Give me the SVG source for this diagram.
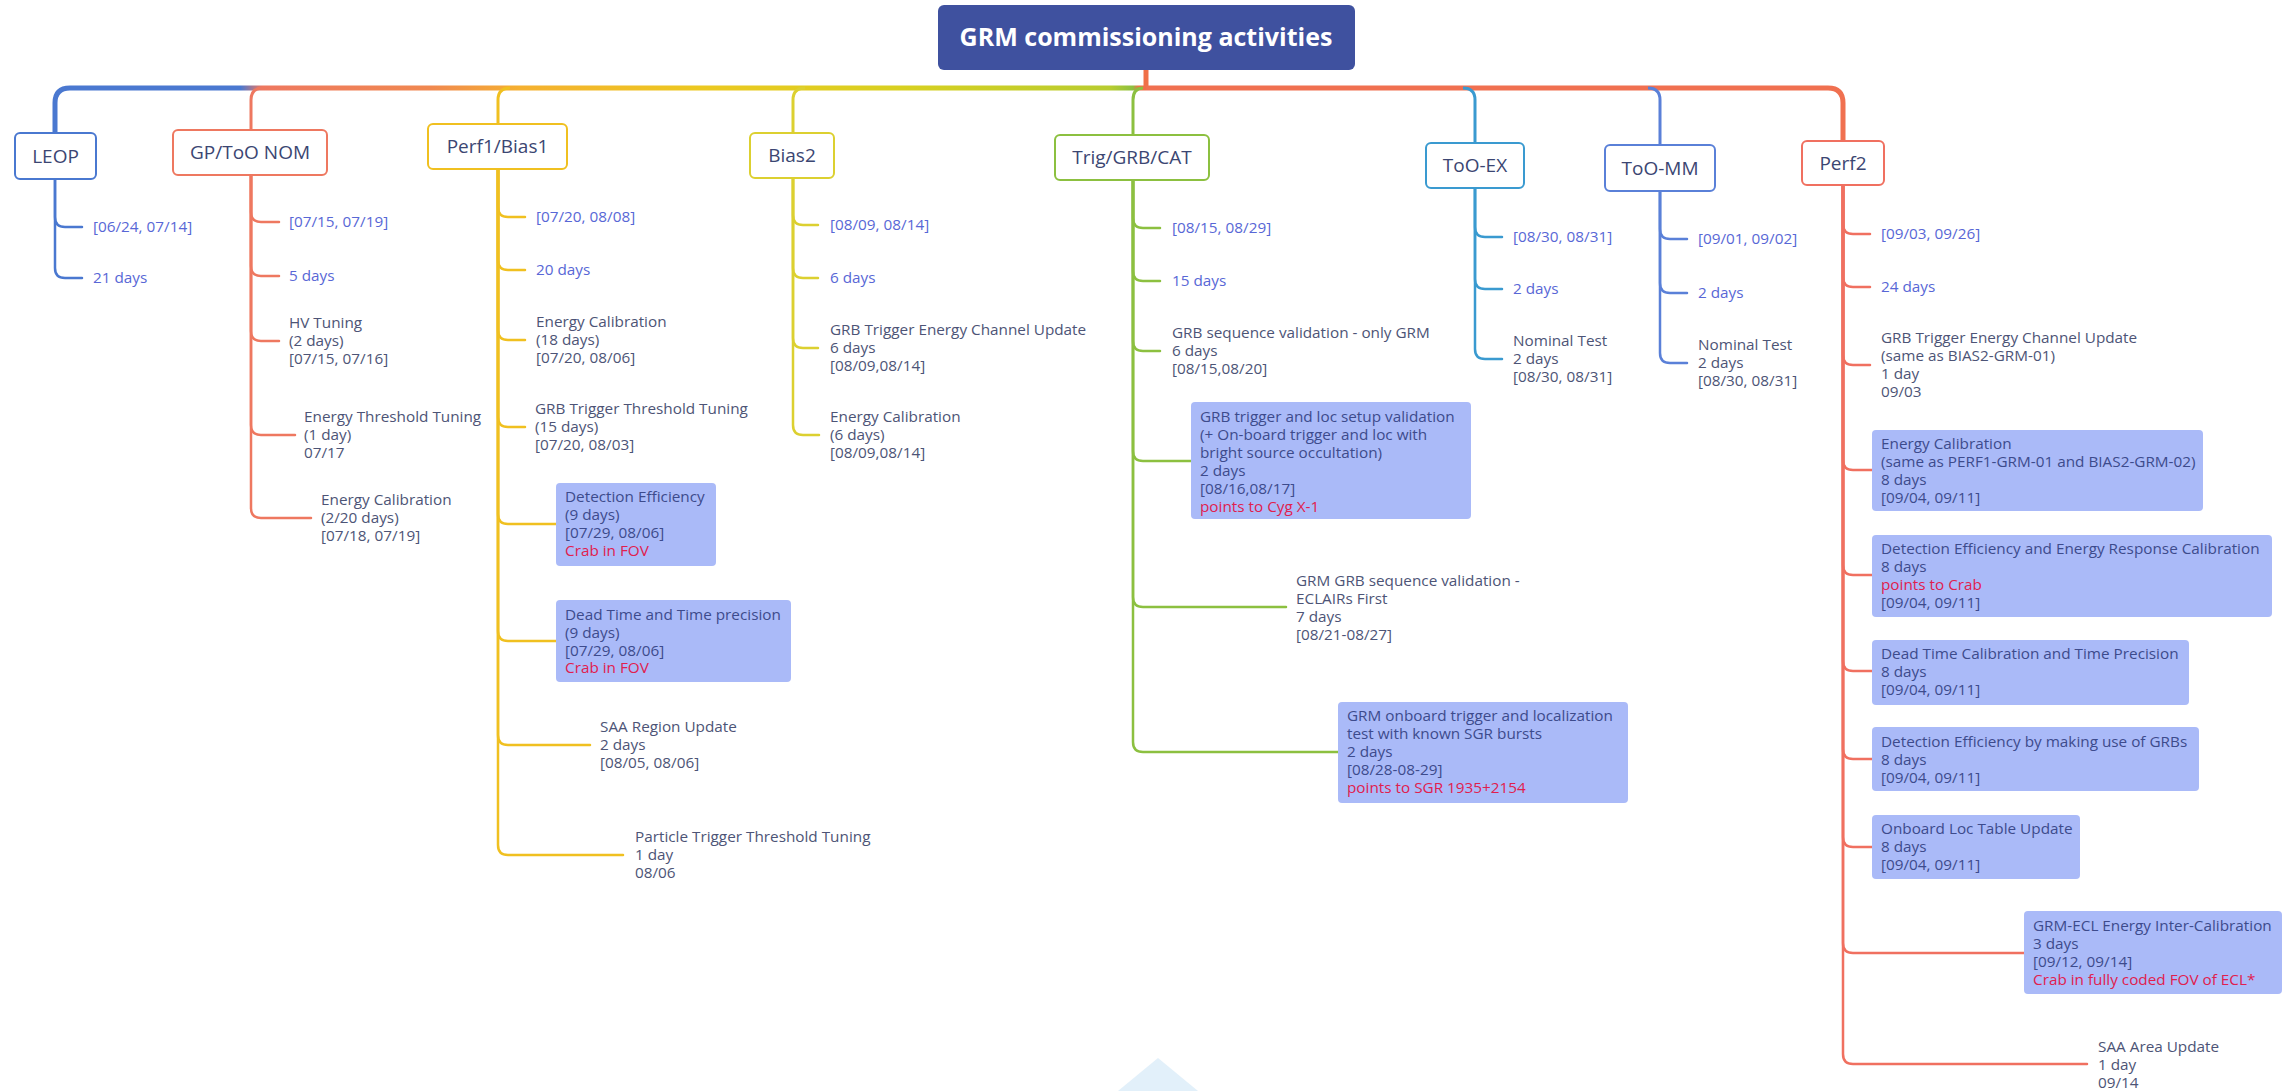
<svg xmlns="http://www.w3.org/2000/svg" width="2295" height="1091" viewBox="0 0 2295 1091">
<defs>
<style>
text{font-family:"Open Sans","Liberation Sans",sans-serif}
.box{fill:#fff;stroke-width:2}
.n{font-size:19px;fill:#3b4672;text-anchor:middle}
.d{font-size:15.3px;fill:#5867d6}
.t{font-size:15.3px;fill:#4d5476}
.bx{fill:#aabaf8}
.b{font-size:15.3px;fill:#3d4b8c}
.r{fill:#e0204e}
.c{fill:none;stroke-width:2.5;stroke-linecap:round}
.br{fill:none;stroke-width:3}
</style>
<linearGradient id="trunkL" gradientUnits="userSpaceOnUse" x1="55" y1="0" x2="1146" y2="0">
<stop offset="0" stop-color="#4a78d0"/>
<stop offset="0.17" stop-color="#4a78d0"/>
<stop offset="0.19" stop-color="#ee7860"/>
<stop offset="0.344" stop-color="#f08850"/>
<stop offset="0.426" stop-color="#f5b030"/>
<stop offset="0.59" stop-color="#ecc820"/>
<stop offset="0.775" stop-color="#d8d020"/>
<stop offset="0.967" stop-color="#b8cc30"/>
<stop offset="0.988" stop-color="#8cc040"/>
<stop offset="0.993" stop-color="#f07048"/>
<stop offset="1" stop-color="#f07048"/>
</linearGradient>
</defs>
<rect width="2295" height="1091" fill="#fff"/>
<polygon points="1158,1058 1118,1091 1198,1091" fill="#e2f0fa"/>

<g id="connectors">
<path d="M1146,70 V88" stroke="#f07048" stroke-width="5" fill="none"/>
<path d="M1146,88 H70 Q55,88 55,103 V133" stroke="url(#trunkL)" stroke-width="5" fill="none"/>
<path d="M1146,88 H1828 Q1843,88 1843,103 V141" stroke="#f07050" stroke-width="5" fill="none"/>
<path class="br" d="M263,88 Q251,88 251,100 V130" stroke="#ee7860"/>
<path class="br" d="M510,88 Q498,88 498,100 V124" stroke="#f0c020"/>
<path class="br" d="M805,88 Q793,88 793,100 V133" stroke="#dcd030"/>
<path class="br" d="M1143,88 Q1133,88 1133,100 V135" stroke="#8cc040"/>
<path class="br" d="M1463,88 Q1475,88 1475,100 V143" stroke="#3a9ad0"/>
<path class="br" d="M1648,88 Q1660,88 1660,100 V145" stroke="#5a80d8"/>
<g stroke="#4a78d0">
<path class="c" d="M55,179 V217 Q55,227 65,227 H82"/>
<path class="c" d="M55,179 V268 Q55,278 65,278 H82"/>
</g>
<g stroke="#ee7860">
<path class="c" d="M251,175 V212 Q251,222 261,222 H279"/>
<path class="c" d="M251,175 V266 Q251,276 261,276 H279"/>
<path class="c" d="M251,175 V331 Q251,341 261,341 H279"/>
<path class="c" d="M251,175 V425 Q251,435 261,435 H295"/>
<path class="c" d="M251,175 V508 Q251,518 261,518 H311"/>
</g>
<g stroke="#f0c020">
<path class="c" d="M498,169 V207 Q498,217 508,217 H525"/>
<path class="c" d="M498,169 V260 Q498,270 508,270 H525"/>
<path class="c" d="M498,169 V330 Q498,340 508,340 H525"/>
<path class="c" d="M498,169 V417 Q498,427 508,427 H525"/>
<path class="c" d="M498,169 V514 Q498,524 508,524 H556"/>
<path class="c" d="M498,169 V631 Q498,641 508,641 H556"/>
<path class="c" d="M498,169 V735 Q498,745 508,745 H590"/>
<path class="c" d="M498,169 V845 Q498,855 508,855 H623"/>
</g>
<g stroke="#dcd030">
<path class="c" d="M793,178 V215 Q793,225 803,225 H818"/>
<path class="c" d="M793,178 V268 Q793,278 803,278 H818"/>
<path class="c" d="M793,178 V338 Q793,348 803,348 H818"/>
<path class="c" d="M793,178 V425 Q793,435 803,435 H819"/>
</g>
<g stroke="#8cc040">
<path class="c" d="M1133,180 V218 Q1133,228 1143,228 H1160"/>
<path class="c" d="M1133,180 V271 Q1133,281 1143,281 H1160"/>
<path class="c" d="M1133,180 V341 Q1133,351 1143,351 H1160"/>
<path class="c" d="M1133,180 V451 Q1133,461 1143,461 H1191"/>
<path class="c" d="M1133,180 V597 Q1133,607 1143,607 H1286"/>
<path class="c" d="M1133,180 V742 Q1133,752 1143,752 H1338"/>
</g>
<g stroke="#3a9ad0">
<path class="c" d="M1475,188 V227 Q1475,237 1485,237 H1502"/>
<path class="c" d="M1475,188 V279 Q1475,289 1485,289 H1502"/>
<path class="c" d="M1475,188 V349 Q1475,359 1485,359 H1502"/>
</g>
<g stroke="#5a80d8">
<path class="c" d="M1660,191 V229 Q1660,239 1670,239 H1687"/>
<path class="c" d="M1660,191 V283 Q1660,293 1670,293 H1687"/>
<path class="c" d="M1660,191 V353 Q1660,363 1670,363 H1687"/>
</g>
<g stroke="#f07060">
<path class="c" d="M1843,185 V224 Q1843,234 1853,234 H1870"/>
<path class="c" d="M1843,185 V277 Q1843,287 1853,287 H1870"/>
<path class="c" d="M1843,185 V355 Q1843,365 1853,365 H1870"/>
<path class="c" d="M1843,185 V460 Q1843,470 1853,470 H1872"/>
<path class="c" d="M1843,185 V565 Q1843,575 1853,575 H1872"/>
<path class="c" d="M1843,185 V661 Q1843,671 1853,671 H1872"/>
<path class="c" d="M1843,185 V749 Q1843,759 1853,759 H1872"/>
<path class="c" d="M1843,185 V837 Q1843,847 1853,847 H1872"/>
<path class="c" d="M1843,185 V943 Q1843,953 1853,953 H2024"/>
<path class="c" d="M1843,185 V1054 Q1843,1064 1853,1064 H2087"/>
</g>
</g>

<g id="root">
<rect x="938" y="5" width="417" height="65" rx="6" fill="#3f519f"/>
<text x="1146" y="46" font-size="25" font-weight="700" fill="#fff" text-anchor="middle">GRM commissioning activities</text>
</g>

<g id="leop">
<rect class="box" x="15" y="133" width="81" height="46" rx="5" stroke="#4a78d0"/>
<text class="n" x="55.5" y="163">LEOP</text>
<text class="d" x="93" y="232">[06/24, 07/14]</text>
<text class="d" x="93" y="283">21 days</text>
</g>

<g id="gp">
<rect class="box" x="173" y="130" width="154" height="45" rx="5" stroke="#ee7860"/>
<text class="n" x="250" y="159">GP/ToO NOM</text>
<text class="d" x="289" y="227">[07/15, 07/19]</text>
<text class="d" x="289" y="281">5 days</text>
<text class="t" x="289" y="328">HV Tuning<tspan x="289" y="346">(2 days)</tspan><tspan x="289" y="364">[07/15, 07/16]</tspan></text>
<text class="t" x="304" y="422">Energy Threshold Tuning<tspan x="304" y="440">(1 day)</tspan><tspan x="304" y="458">07/17</tspan></text>
<text class="t" x="321" y="505">Energy Calibration<tspan x="321" y="523">(2/20 days)</tspan><tspan x="321" y="541">[07/18, 07/19]</tspan></text>
</g>

<g id="perf1">
<rect class="box" x="428" y="124" width="139" height="45" rx="5" stroke="#f0c020"/>
<text class="n" x="497.5" y="153">Perf1/Bias1</text>
<text class="d" x="536" y="222">[07/20, 08/08]</text>
<text class="d" x="536" y="275">20 days</text>
<text class="t" x="536" y="327">Energy Calibration<tspan x="536" y="345">(18 days)</tspan><tspan x="536" y="363">[07/20, 08/06]</tspan></text>
<text class="t" x="535" y="414">GRB Trigger Threshold Tuning<tspan x="535" y="432">(15 days)</tspan><tspan x="535" y="450">[07/20, 08/03]</tspan></text>
<rect class="bx" x="556" y="483" width="160" height="83" rx="4"/>
<text class="b" x="565" y="502">Detection Efficiency<tspan x="565" y="520">(9 days)</tspan><tspan x="565" y="538">[07/29, 08/06]</tspan><tspan class="r" x="565" y="556">Crab in FOV</tspan></text>
<rect class="bx" x="556" y="600" width="235" height="82" rx="4"/>
<text class="b" x="565" y="620">Dead Time and Time precision<tspan x="565" y="638">(9 days)</tspan><tspan x="565" y="656">[07/29, 08/06]</tspan><tspan class="r" x="565" y="673">Crab in FOV</tspan></text>
<text class="t" x="600" y="732">SAA Region Update<tspan x="600" y="750">2 days</tspan><tspan x="600" y="768">[08/05, 08/06]</tspan></text>
<text class="t" x="635" y="842">Particle Trigger Threshold Tuning<tspan x="635" y="860">1 day</tspan><tspan x="635" y="878">08/06</tspan></text>
</g>

<g id="bias2">
<rect class="box" x="750" y="133" width="84" height="45" rx="5" stroke="#dcd030"/>
<text class="n" x="792" y="162">Bias2</text>
<text class="d" x="830" y="230">[08/09, 08/14]</text>
<text class="d" x="830" y="283">6 days</text>
<text class="t" x="830" y="335">GRB Trigger Energy Channel Update<tspan x="830" y="353">6 days</tspan><tspan x="830" y="371">[08/09,08/14]</tspan></text>
<text class="t" x="830" y="422">Energy Calibration<tspan x="830" y="440">(6 days)</tspan><tspan x="830" y="458">[08/09,08/14]</tspan></text>
</g>

<g id="trig">
<rect class="box" x="1055" y="135" width="154" height="45" rx="5" stroke="#8cc040"/>
<text class="n" x="1132" y="164">Trig/GRB/CAT</text>
<text class="d" x="1172" y="233">[08/15, 08/29]</text>
<text class="d" x="1172" y="286">15 days</text>
<text class="t" x="1172" y="338">GRB sequence validation - only GRM<tspan x="1172" y="356">6 days</tspan><tspan x="1172" y="374">[08/15,08/20]</tspan></text>
<rect class="bx" x="1191" y="402" width="280" height="117" rx="4"/>
<text class="b" x="1200" y="422">GRB trigger and loc setup validation<tspan x="1200" y="440">(+ On-board trigger and loc with</tspan><tspan x="1200" y="458">bright source occultation)</tspan><tspan x="1200" y="476">2 days</tspan><tspan x="1200" y="494">[08/16,08/17]</tspan><tspan class="r" x="1200" y="512">points to Cyg X-1</tspan></text>
<text class="t" x="1296" y="586">GRM GRB sequence validation -<tspan x="1296" y="604">ECLAIRs First</tspan><tspan x="1296" y="622">7 days</tspan><tspan x="1296" y="640">[08/21-08/27]</tspan></text>
<rect class="bx" x="1338" y="702" width="290" height="101" rx="4"/>
<text class="b" x="1347" y="721">GRM onboard trigger and localization<tspan x="1347" y="739">test with known SGR bursts</tspan><tspan x="1347" y="757">2 days</tspan><tspan x="1347" y="775">[08/28-08-29]</tspan><tspan class="r" x="1347" y="793">points to SGR 1935+2154</tspan></text>
</g>

<g id="tooex">
<rect class="box" x="1426" y="143" width="98" height="45" rx="5" stroke="#3a9ad0"/>
<text class="n" x="1475" y="172">ToO-EX</text>
<text class="d" x="1513" y="242">[08/30, 08/31]</text>
<text class="d" x="1513" y="294">2 days</text>
<text class="t" x="1513" y="346">Nominal Test<tspan x="1513" y="364">2 days</tspan><tspan x="1513" y="382">[08/30, 08/31]</tspan></text>
</g>

<g id="toomm">
<rect class="box" x="1605" y="145" width="110" height="46" rx="5" stroke="#5a80d8"/>
<text class="n" x="1660" y="175">ToO-MM</text>
<text class="d" x="1698" y="244">[09/01, 09/02]</text>
<text class="d" x="1698" y="298">2 days</text>
<text class="t" x="1698" y="350">Nominal Test<tspan x="1698" y="368">2 days</tspan><tspan x="1698" y="386">[08/30, 08/31]</tspan></text>
</g>

<g id="perf2">
<rect class="box" x="1802" y="141" width="82" height="44" rx="5" stroke="#f07060"/>
<text class="n" x="1843" y="170">Perf2</text>
<text class="d" x="1881" y="239">[09/03, 09/26]</text>
<text class="d" x="1881" y="292">24 days</text>
<text class="t" x="1881" y="343">GRB Trigger Energy Channel Update<tspan x="1881" y="361">(same as BIAS2-GRM-01)</tspan><tspan x="1881" y="379">1 day</tspan><tspan x="1881" y="397">09/03</tspan></text>
<rect class="bx" x="1872" y="430" width="331" height="81" rx="4"/>
<text class="b" x="1881" y="449">Energy Calibration<tspan x="1881" y="467">(same as PERF1-GRM-01 and BIAS2-GRM-02)</tspan><tspan x="1881" y="485">8 days</tspan><tspan x="1881" y="503">[09/04, 09/11]</tspan></text>
<rect class="bx" x="1872" y="535" width="400" height="82" rx="4"/>
<text class="b" x="1881" y="554">Detection Efficiency and Energy Response Calibration<tspan x="1881" y="572">8 days</tspan><tspan class="r" x="1881" y="590">points to Crab</tspan><tspan x="1881" y="608">[09/04, 09/11]</tspan></text>
<rect class="bx" x="1872" y="640" width="317" height="65" rx="4"/>
<text class="b" x="1881" y="659">Dead Time Calibration and Time Precision<tspan x="1881" y="677">8 days</tspan><tspan x="1881" y="695">[09/04, 09/11]</tspan></text>
<rect class="bx" x="1872" y="727" width="327" height="64" rx="4"/>
<text class="b" x="1881" y="747">Detection Efficiency by making use of GRBs<tspan x="1881" y="765">8 days</tspan><tspan x="1881" y="783">[09/04, 09/11]</tspan></text>
<rect class="bx" x="1872" y="815" width="208" height="64" rx="4"/>
<text class="b" x="1881" y="834">Onboard Loc Table Update<tspan x="1881" y="852">8 days</tspan><tspan x="1881" y="870">[09/04, 09/11]</tspan></text>
<rect class="bx" x="2024" y="911" width="258" height="83" rx="4"/>
<text class="b" x="2033" y="931">GRM-ECL Energy Inter-Calibration<tspan x="2033" y="949">3 days</tspan><tspan x="2033" y="967">[09/12, 09/14]</tspan><tspan class="r" x="2033" y="985">Crab in fully coded FOV of ECL*</tspan></text>
<text class="t" x="2098" y="1052">SAA Area Update<tspan x="2098" y="1070">1 day</tspan><tspan x="2098" y="1088">09/14</tspan></text>
</g>
</svg>
